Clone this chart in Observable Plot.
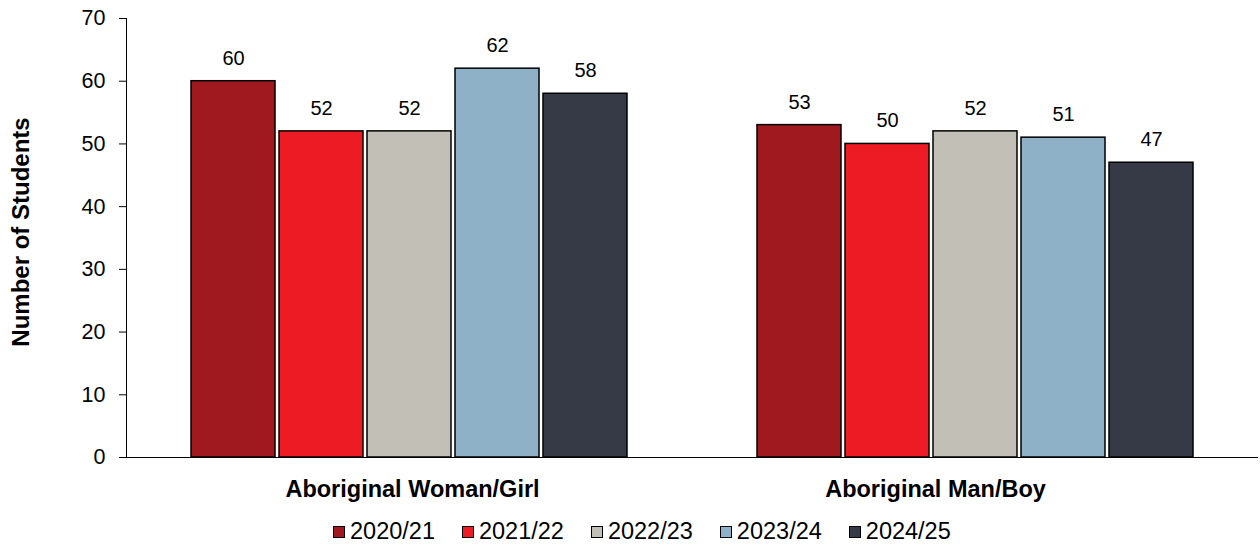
<!DOCTYPE html>
<html>
<head>
<meta charset="utf-8">
<script src="https://cdn.jsdelivr.net/npm/d3@7"></script>
<script src="https://cdn.jsdelivr.net/npm/@observablehq/plot@0.6"></script>
<style>
  body { margin: 0; background: #fff; font-family: "Liberation Sans", Arial, sans-serif; }
  #chart { width: 1260px; }
  .legend { display: flex; justify-content: flex-start; align-items: center; height: 35px; font-size: 23.5px; color: #000; padding-left: 333px; margin-top: 4px; }
  .legend .item { display: flex; align-items: center; margin-right: 27px; }
  .legend .sw { width: 10px; height: 10px; border: 1px solid #000; margin-right: 5px; }
</style>
</head>
<body>
<div id="chart"></div>
<script>
const categories = ["Aboriginal Woman/Girl", "Aboriginal Man/Boy"];
const years = ["2020/21", "2021/22", "2022/23", "2023/24", "2024/25"];
const colors = ["#A0191E", "#ED1C24", "#C1BFB6", "#8FB1C7", "#363A46"];
const womanValues = [60, 52, 52, 62, 58];
const manValues = [53, 50, 52, 51, 47];
const yTicks = [0, 10, 20, 30, 40, 50, 60, 70];

const data = [];
years.forEach((y, i) => data.push({cat: categories[0], year: y, value: womanValues[i]}));
years.forEach((y, i) => data.push({cat: categories[1], year: y, value: manValues[i]}));

const chart = Plot.plot({
  width: 1260,
  height: 510,
  marginTop: 18,
  marginBottom: 53,
  marginLeft: 126,
  marginRight: 2,
  style: {fontFamily: "Liberation Sans, Arial, sans-serif", background: "#fff"},
  fx: {domain: categories, padding: 0, label: null, axis: null},
  x: {domain: years, paddingInner: 0.045, paddingOuter: 0.72, axis: null},
  y: {domain: [0, 70], ticks: yTicks, label: null},
  color: {domain: years, range: colors},
  marks: [
    Plot.axisY({ticks: yTicks, tickSize: 7, tickPadding: 14, fontSize: 21.5, label: null, stroke: "#000"}),
    Plot.barY(data, {fx: "cat", x: "year", y: "value", fill: "year", stroke: "#000", strokeWidth: 1.5}),
    Plot.text(data, {fx: "cat", x: "year", y: "value", text: d => String(d.value), dy: -23, fontSize: 20, fill: "#000"}),
    Plot.text([categories[0]], {fx: d => d, text: d => d, frameAnchor: "bottom", dy: 39, dx: 3, fontSize: 23.5, fontWeight: "bold", fill: "#000"}),
    Plot.text([categories[1]], {fx: d => d, text: d => d, frameAnchor: "bottom", dy: 39, dx: -40, fontSize: 23.5, fontWeight: "bold", fill: "#000"}),
    Plot.ruleY([0], {stroke: "#000", strokeWidth: 1})
  ]
});

const svg = d3.select(chart);
svg.append("line")
  .attr("x1", 126.5).attr("x2", 126.5).attr("y1", 18).attr("y2", 457)
  .attr("stroke", "#000").attr("stroke-width", 1);
svg.append("text")
  .attr("transform", "translate(23,232) rotate(-90)")
  .attr("text-anchor", "middle")
  .attr("dominant-baseline", "middle")
  .attr("font-size", 24).attr("font-weight", "bold")
  .attr("font-family", "Liberation Sans, Arial, sans-serif")
  .text("Number of Students");

document.getElementById("chart").appendChild(chart);

const legend = document.createElement("div");
legend.className = "legend";
years.forEach((y, i) => {
  const it = document.createElement("div");
  it.className = "item";
  const sw = document.createElement("div");
  sw.className = "sw";
  sw.style.background = colors[i];
  it.appendChild(sw);
  const t = document.createElement("span");
  t.textContent = y;
  it.appendChild(t);
  legend.appendChild(it);
});
document.getElementById("chart").appendChild(legend);
</script>
</body>
</html>
